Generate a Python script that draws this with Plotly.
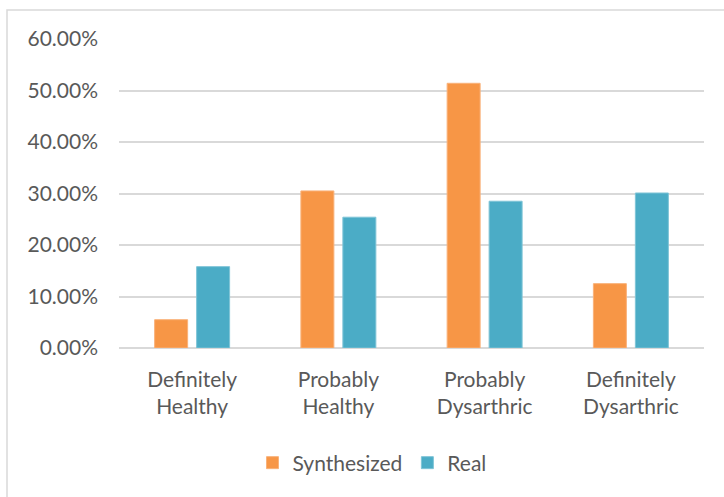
import plotly.graph_objects as go

categories = ["Definitely<br>Healthy", "Probably<br>Healthy", "Probably<br>Dysarthric", "Definitely<br>Dysarthric"]
synthesized = [0.055, 0.305, 0.514, 0.125]
real = [0.158, 0.254, 0.285, 0.301]
tick_vals = [0, 0.1, 0.2, 0.3, 0.4, 0.5, 0.6]
tick_text = ["0.00%", "10.00%", "20.00%", "30.00%", "40.00%", "50.00%", "60.00%"]

W, H = 724, 497
L, R, T, B = 119, 20, 39, 149
pw, ph = W - L - R, H - T - B

FONT = "Lato, Liberation Sans, sans-serif"
TXT = "#595959"
GRID = "#D9D9D9"
FS = 21

fig = go.Figure()
fig.add_trace(go.Bar(name="Synthesized", x=categories, y=synthesized,
                     marker=dict(color="#F79646", line=dict(color="#F9B27A", width=1))))
fig.add_trace(go.Bar(name="Real", x=categories, y=real,
                     marker=dict(color="#4BACC6", line=dict(color="#7FC4D7", width=1))))

# chart-area frame
fig.add_shape(type="rect", xref="paper", yref="paper",
              x0=(7 - L) / pw, x1=(W + 20 - L) / pw,
              y0=-(H + 20 - T - ph) / ph, y1=(T + ph - 10) / ph,
              line=dict(color=GRID, width=1.5), layer="below")

fig.update_layout(
    width=W, height=H,
    margin=dict(l=L, r=R, t=T, b=B, autoexpand=False),
    paper_bgcolor="white", plot_bgcolor="white",
    barmode="group", bargap=0.426, bargroupgap=0.214,
    font=dict(family=FONT, size=FS, color=TXT),
    showlegend=True,
    legend=dict(orientation="h", x=(372 - L) / pw, xanchor="center",
                y=-(463 - T - ph) / ph, yanchor="middle",
                font=dict(family=FONT, size=FS, color=TXT),
                itemwidth=30, traceorder="normal"),
    xaxis=dict(showgrid=False, showline=False, ticks="", ticklabelstandoff=17,
               tickfont=dict(family=FONT, size=FS, color=TXT)),
    yaxis=dict(range=[0, 0.6], tickvals=tick_vals, ticktext=tick_text,
               showgrid=True, gridcolor=GRID, gridwidth=1.5,
               zeroline=True, zerolinecolor=GRID, zerolinewidth=1.5,
               showline=False, ticks="", ticklabelstandoff=20,
               tickfont=dict(family=FONT, size=FS, color=TXT)),
)

fig.write_html("out.html")
